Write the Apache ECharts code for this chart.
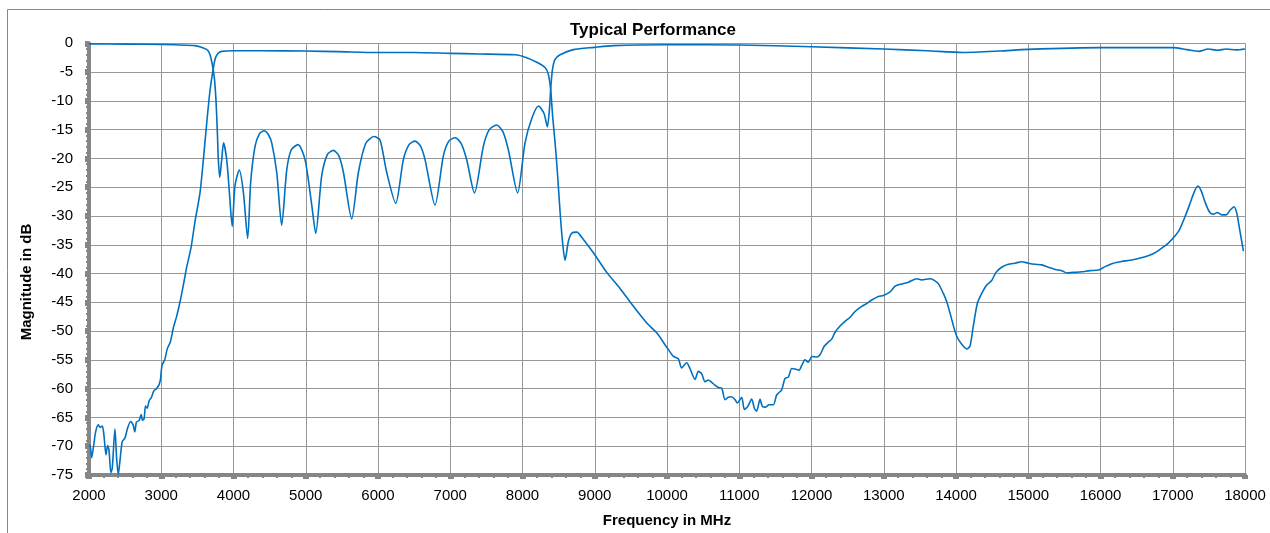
<!DOCTYPE html>
<html>
<head>
<meta charset="utf-8">
<script src="https://cdn.jsdelivr.net/npm/echarts@6/dist/echarts.min.js"></script>
<style>
html,body{margin:0;padding:0;background:#fff;}
#chart{width:1270px;height:533px;}
</style>
</head>
<body>
<div id="chart"></div>
<script>
// Frequency axis (MHz) and magnitude axis (dB)
const xRange = [2000, 18000];
const xStep = 1000;
const yRange = [-75, 0];
const yStep = 5;

// Return loss trace (near 0 dB outside passband, ripples inside)
const returnLoss = [
  [2000,-0.1],[2500,-0.15],[3000,-0.2],[3467,-0.4],[3583,-0.8],[3643,-1.2],[3675,-2.0],[3707,-3.7],
  [3735,-6.0],[3758,-10],[3777,-15.6],[3790,-20.2],[3809,-23.3],[3837,-20.2],[3862,-17.3],
  [3906,-20.2],[3943,-25.9],[3982,-31.8],[4021,-24.7],[4080,-22.0],[4137,-25.9],[4196,-33.9],
  [4238,-24.1],[4298,-17.9],[4360,-15.7],[4422,-15.2],[4480,-15.8],[4529,-17.3],[4598,-22.4],[4667,-31.6],
  [4737,-22.0],[4800,-18.5],[4893,-17.6],[4990,-20.2],[5083,-28.1],[5138,-33.0],[5221,-23.0],
  [5300,-19.3],[5381,-18.6],[5460,-19.6],[5521,-22.4],[5636,-30.5],[5729,-22.4],[5830,-17.4],[5945,-16.2],
  [6028,-16.8],[6120,-22.4],[6245,-27.8],[6351,-20.2],[6430,-17.6],[6512,-17.0],[6590,-17.9],[6651,-20.2],
  [6789,-28.1],[6904,-19.6],[6980,-17.0],[7068,-16.4],[7150,-17.4],[7227,-20.2],[7335,-26.0],[7458,-17.9],
  [7540,-15.0],[7643,-14.2],[7730,-15.4],[7804,-18.5],[7932,-26.0],[8035,-17.3],[8127,-13.1],
  [8222,-10.9],[8298,-12.2],[8344,-14.5],[8372,-11.6],[8395,-7.1],[8418,-4.3],[8451,-2.8],
  [8520,-2.0],[8704,-1.1],[8995,-0.7],[9258,-0.4],[10000,-0.25],[11000,-0.3],[12000,-0.6],
  [13000,-1.0],[13600,-1.3],[14100,-1.6],[14600,-1.35],[15000,-1.05],[16000,-0.75],[17000,-0.75],
  [17200,-1.1],[17360,-1.4],[17490,-1.0],[17620,-1.2],[17740,-1.0],[17880,-1.15],[18000,-1.0]
];

// Insertion loss trace (passband near -1.5 dB, stopbands deep)
const insertionLoss = [
  [2000,-70.0],[2014,-69.8],[2037,-72.0],[2060,-70.3],[2092,-67.5],[2129,-66.3],[2152,-66.7],
  [2184,-66.5],[2207,-68.1],[2235,-71.5],[2258,-69.9],[2276,-70.6],[2303,-74.6],[2322,-73.8],
  [2359,-67.0],[2382,-72.0],[2405,-74.9],[2428,-72.6],[2460,-69.2],[2497,-68.6],[2533,-66.9],
  [2575,-65.7],[2611,-66.3],[2634,-67.5],[2657,-65.8],[2694,-65.5],[2722,-64.5],[2740,-65.5],
  [2763,-65.2],[2782,-63.0],[2805,-63.4],[2832,-62.1],[2864,-61.5],[2897,-60.4],[2934,-60.0],
  [2970,-59.3],[2989,-58.4],[3011,-55.9],[3048,-55.0],[3085,-53.0],[3126,-51.9],[3168,-49.4],
  [3214,-47.4],[3260,-44.9],[3306,-42.0],[3352,-38.9],[3412,-35.5],[3467,-31.0],[3537,-25.9],
  [3583,-20.2],[3629,-13.9],[3675,-8.2],[3712,-5.0],[3744,-2.8],[3781,-1.8],[3837,-1.4],
  [4007,-1.3],[4400,-1.3],[5000,-1.35],[5450,-1.45],[6000,-1.6],[6500,-1.6],[7000,-1.75],
  [7400,-1.85],[7900,-2.0],[8058,-2.5],[8197,-3.3],[8312,-4.2],[8358,-5.4],[8391,-8.2],
  [8418,-12.8],[8451,-17.3],[8483,-22.4],[8520,-29.3],[8557,-34.9],[8589,-37.7],[8635,-34.4],
  [8681,-33.0],[8751,-32.8],[8843,-34.1],[8981,-36.4],[9166,-39.8],[9350,-42.6],[9535,-45.7],
  [9720,-48.6],[9858,-50.3],[9996,-52.8],[10089,-54.4],[10157,-54.8],[10203,-56.4],[10272,-55.5],
  [10318,-56.5],[10388,-58.4],[10434,-57.0],[10480,-57.4],[10526,-58.8],[10572,-58.5],[10618,-58.9],
  [10665,-59.4],[10711,-59.8],[10757,-59.9],[10803,-61.9],[10849,-61.5],[10895,-61.4],[10941,-61.9],
  [10974,-62.5],[11034,-61.5],[11071,-63.6],[11117,-63.1],[11172,-61.8],[11209,-63.4],[11241,-63.9],
  [11288,-61.8],[11320,-63.1],[11366,-63.2],[11412,-62.8],[11472,-62.8],[11518,-61.1],[11587,-60.2],
  [11633,-58.2],[11680,-58.0],[11726,-56.5],[11772,-56.6],[11827,-56.8],[11864,-56.0],[11910,-55.0],
  [11957,-55.4],[12003,-54.4],[12072,-54.5],[12118,-54.1],[12178,-52.6],[12234,-51.9],[12280,-51.4],
  [12326,-50.2],[12395,-49.1],[12464,-48.3],[12534,-47.6],[12603,-46.6],[12695,-45.7],[12765,-45.2],
  [12834,-44.6],[12926,-44.0],[12995,-43.8],[13087,-43.2],[13157,-42.2],[13249,-41.8],[13341,-41.5],
  [13457,-40.9],[13525,-41.1],[13641,-40.9],[13688,-41.1],[13757,-41.8],[13826,-43.5],[13872,-44.9],
  [13918,-46.9],[13965,-49.1],[14010,-50.9],[14080,-52.3],[14149,-53.1],[14194,-52.6],[14240,-49.1],
  [14295,-45.2],[14355,-43.5],[14425,-42.0],[14494,-41.2],[14554,-39.8],[14632,-38.9],[14725,-38.4],
  [14817,-38.2],[14909,-37.95],[15000,-38.2],[15094,-38.4],[15186,-38.5],[15278,-38.9],[15371,-39.3],
  [15463,-39.5],[15532,-39.9],[15624,-39.8],[15740,-39.7],[15855,-39.5],[15971,-39.4],[16063,-38.8],
  [16178,-38.2],[16293,-37.9],[16409,-37.7],[16524,-37.4],[16640,-37.0],[16755,-36.4],[16847,-35.6],
  [16939,-34.7],[17009,-33.8],[17092,-32.4],[17171,-30.1],[17240,-27.8],[17295,-25.9],[17346,-24.8],
  [17392,-25.6],[17448,-27.6],[17508,-29.3],[17563,-29.7],[17618,-29.4],[17678,-29.8],[17738,-29.8],
  [17794,-29.0],[17849,-28.4],[17886,-29.5],[17923,-32.1],[17950,-34.1],[17978,-36.1]
];

const titleText = 'Typical Performance';
const xName = 'Frequency in MHz';
const yName = 'Magnitude in dB';

const font = 'Liberation Sans, Arial, sans-serif';
const axisGray = '#868686';
const gridGray = '#989898';
const lineBlue = '#0070C0';

const chart = echarts.init(document.getElementById('chart'), null, {renderer: 'canvas'});

function lineSeries(data) {
  return {
    type: 'line',
    data: data,
    showSymbol: false,
    smooth: 0.25,
    lineStyle: {color: lineBlue, width: 1.6},
    itemStyle: {color: lineBlue},
    animation: false,
    z: 3
  };
}

chart.setOption({
  animation: false,
  backgroundColor: '#ffffff',
  title: {
    text: titleText,
    left: 565,
    top: 17,
    textStyle: {fontFamily: font, fontSize: 17, fontWeight: 'bold', color: '#000'}
  },
  graphic: [{
    type: 'rect',
    silent: true,
    z: -10,
    shape: {x: 7.5, y: 9.5, width: 1400, height: 700},
    style: {fill: 'none', stroke: '#898989', lineWidth: 1}
  }, {
    type: 'text',
    silent: true,
    x: 27,
    y: 282,
    rotation: Math.PI / 2,
    style: {
      text: yName,
      fontFamily: font,
      fontSize: 15,
      fontWeight: 'bold',
      fill: '#000',
      align: 'center',
      verticalAlign: 'middle'
    }
  }],
  grid: {left: 89, right: 25, top: 43.3, bottom: 49.5, containLabel: false},
  xAxis: {
    type: 'value',
    min: xRange[0],
    max: xRange[1],
    interval: xStep,
    name: xName,
    nameLocation: 'middle',
    nameGap: 38,
    nameTextStyle: {fontFamily: font, fontSize: 15, fontWeight: 'bold', color: '#000'},
    axisLine: {show: true, onZero: false, lineStyle: {color: axisGray, width: 4}},
    axisTick: {show: true, length: 4, lineStyle: {color: axisGray, width: 6}},
    minorTick: {show: true, splitNumber: 5, length: 3, lineStyle: {color: axisGray, width: 2}},
    splitLine: {show: true, lineStyle: {color: gridGray, width: 1}},
    axisLabel: {
      fontFamily: font, fontSize: 15, color: '#000', margin: 13,
      showMinLabel: true, showMaxLabel: true,
      formatter: function (v) { return String(v); }
    }
  },
  yAxis: {
    type: 'value',
    min: yRange[0],
    max: yRange[1],
    interval: yStep,
    axisLine: {show: true, onZero: false, lineStyle: {color: axisGray, width: 4}},
    axisTick: {show: true, length: 4, lineStyle: {color: axisGray, width: 6}},
    minorTick: {show: true, splitNumber: 5, length: 3, lineStyle: {color: axisGray, width: 2}},
    splitLine: {show: true, lineStyle: {color: gridGray, width: 1}},
    axisLabel: {
      fontFamily: font, fontSize: 15, color: '#000', margin: 16,
      showMinLabel: true, showMaxLabel: true,
      formatter: function (v) { return String(v); }
    }
  },
  series: [lineSeries(returnLoss), lineSeries(insertionLoss)]
});
</script>
</body>
</html>
